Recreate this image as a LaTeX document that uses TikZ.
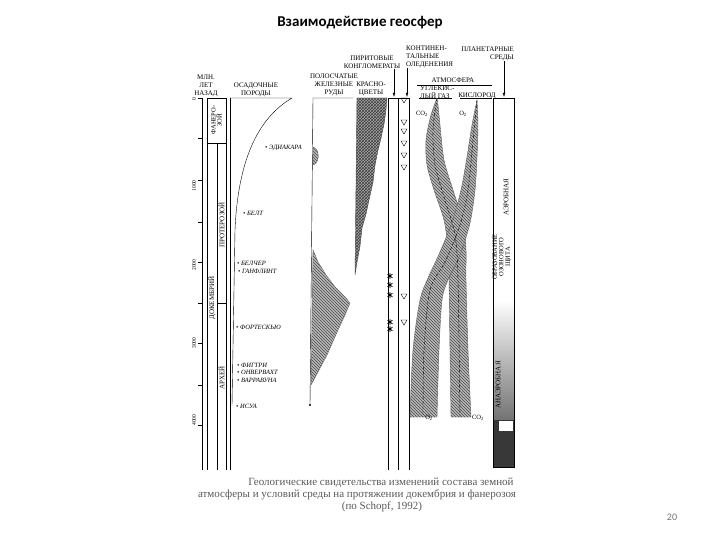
\documentclass[tikz,border=0pt]{standalone}
\usepackage{fontspec}
\setmainfont{Liberation Serif}
\newfontfamily\titlefont{Carlito}
\usetikzlibrary{arrows.meta,patterns}

\tikzset{
  ttl/.style={font=\titlefont\bfseries\fontsize{15}{17}\selectfont},
  hdr/.style={font=\fontsize{7}{8}\selectfont,align=center,inner sep=0pt},
  vlab/.style={font=\fontsize{7}{6}\selectfont,rotate=90,align=center,inner sep=0pt},
  site/.style={font=\fontsize{6.5}{7}\selectfont\itshape,anchor=west,inner sep=0pt},
  band/.style={preaction={fill=black!28},pattern=north west lines,pattern color=black!70,draw=black!60,thin},
  gas/.style={font=\fontsize{6.5}{7}\selectfont,inner sep=0pt},
  captxt/.style={font=\fontsize{11}{12}\selectfont,text=black!65,inner sep=0pt},
}

\begin{document}
\begin{tikzpicture}[x=1pt,y=-1pt,>={Latex[length=4pt,width=2.6pt]}]
  \useasboundingbox (0,0) rectangle (720,540);
  \node[ttl] (title) at (360,23) {Взаимодействие геосфер};

  % time scale
  \node[hdr] (mln) at (206,86) {МЛН.\\ЛЕТ\\НАЗАД};
  \draw (202,98) -- (202,470);
  \foreach \y in {98,138,180,222,262,303,343,385,425}
    \draw (198,\y) -- (202,\y);
  \foreach \y/\t in {99/0,186/1000,265/2000,343/3000,420/4000}
    \node[vlab,font=\fontsize{5.5}{6}\selectfont] at (194,\y) {\t};
  \draw (207,98) rectangle (226,143);
  \draw (207,143) -- (207,470) (217,143) -- (217,470) (226,143) -- (226,470);
  \draw (217,303) -- (226,303);
  \node[vlab,font=\fontsize{6.5}{6}\selectfont] at (216.5,120) {ФАНЕРО-\\ЗОЙ};
  \node[vlab] at (221.5,225) {ПРОТЕРОЗОЙ};
  \node[vlab] at (212,298) {ДОКЕМБРИЙ};
  \node[vlab] at (221.5,378) {АРХЕЙ};

  % sedimentary rocks
  \node[hdr] (sed) at (256,90) {ОСАДОЧНЫЕ\\ПОРОДЫ};
  \draw (230,98) -- (230,470);
  \draw (230,98) -- (292,98) .. controls (258,118) and (238,160) .. (235,230) -- (232,405);
  \node[site] at (265,148) {• ЭДИАКАРА};
  \node[site] at (243,213) {• БЕЛТ};
  \node[site] at (237,263) {• БЕЛЧЕР};
  \node[site] at (238,271) {• ГАНФЛИНТ};
  \node[site] at (236,327) {• ФОРТЕСКЬЮ};
  \node[site] at (237,365) {• ФИГТРИ};
  \node[site] at (237,372) {• ОНВЕРВАХТ};
  \node[site] at (237,380) {• ВАРРАВУНА};
  \node[site] at (236,406) {• ИСУА};

  % banded iron formations
  \node[hdr] (bif) at (334,85) {ПОЛОСЧАТЫЕ\\ЖЕЛЕЗНЫЕ\\РУДЫ};
  \draw (353,98) -- (313,98) -- (310,405);
  \fill (310,405) circle (1.2);
  \draw[band] (313,147) .. controls (320,149) and (320,163) .. (313,165) -- cycle;
  \draw[band] (313,250) -- (318,262) -- (326,275) -- (335,287) -- (345,297) -- (350,303)
    -- (345,315) -- (338,330) -- (327,355) -- (318,372) -- (311,385) -- cycle;

  % red beds
  \node[hdr] (red) at (371,89) {КРАСНО-\\ЦВЕТЫ};
  \draw[preaction={fill=black!35},pattern=crosshatch,pattern color=black!75,draw=black!70]
    (357,98) -- (387,98) -- (386,110) -- (384,124) -- (381,138) -- (378,150) -- (375,165)
    -- (373,182) -- (369,200) -- (366,214) -- (362,228) -- (360,246) -- (357,262)
    -- (355,275) -- cycle;

  % pyrite conglomerates and glaciations
  \node[hdr] (pyr) at (372,62) {ПИРИТОВЫЕ\\КОНГЛОМЕРАТЫ};
  \node[hdr,anchor=west,align=left] (glac) at (406,57) {КОНТИНЕН-\\ТАЛЬНЫЕ\\ОЛЕДЕНЕНИЯ};
  \coordinate (pyrcol) at (394,97);
  \coordinate (glaccol) at (407,97);
  \draw[->] (pyr.south -| pyrcol) -- (pyrcol);
  \draw[->] (glac.south -| glaccol) -- (glaccol);
  \draw (388,98) -- (410,98);
  \draw (388,98) -- (388,470) (398,98) -- (398,470) (409,98) -- (409,470);
  \foreach \y in {100,122,131,143,155,167,296,322}
    \draw (401,\y-2) -- (407,\y-2) -- (404,\y+3) -- cycle;
  \foreach \y in {276,285,295,322,329}
    \draw[thick] (390,\y-3) -- (390,\y+3) (387.5,\y-1.8) -- (392.5,\y+1.8) (387.5,\y+1.8) -- (392.5,\y-1.8);

  % atmosphere
  \node[hdr] (atm) at (453,80) {АТМОСФЕРА};
  \draw (417,85) -- (492,85);
  \node[hdr,anchor=west,align=left] (co2h) at (420,92) {УГЛЕКИС-\\ЛЫЙ ГАЗ};
  \node[hdr] (o2h) at (477,96) {КИСЛОРОД};
  \draw (419,98) -- (452,98) (460,98) -- (492,98);
  \draw[band] plot[smooth] coordinates {(437,98) (431,115) (426,140) (427,165) (434,190)
      (444,220) (448,250) (449,280) (450,350) (451,417)}
    -- plot[smooth] coordinates {(471,417) (468,350) (466,280) (466,250) (463,222)
      (453,190) (444,160) (440,125) (438,105) (437,98)};
  \draw[band] plot[smooth] coordinates {(477,100) (472,125) (467,157) (461,190) (452,222)
      (440,252) (428,278) (420,300) (413,350) (410,417)}
    -- plot[smooth] coordinates {(437,417) (439,350) (442,300) (448,280) (460,255)
      (470,223) (475,190) (477,157) (478,125) (477,100)};
  \draw[densely dashed] plot[smooth] coordinates {(437,98) (433,130) (435,165) (445,200)
    (455,235) (458,280) (460,417)};
  \draw[densely dashed] plot[smooth] coordinates {(477,100) (473,140) (468,190) (460,225)
    (445,262) (430,290) (424,350) (423,417)};
  \node[gas] (co2t) at (422,114) {CO\textsubscript{2}};
  \node[gas] (o2t) at (463,114) {O\textsubscript{2}};
  \node[gas] (o2b) at (429,418) {O\textsubscript{2}};
  \node[gas] (co2b) at (478,418) {CO\textsubscript{2}};

  % planetary environments
  \node[hdr,anchor=east,align=right] (planet) at (514,54) {ПЛАНЕТАРНЫЕ\\СРЕДЫ};
  \coordinate (planetcol) at (504,97);
  \draw[->] (planet.south -| planetcol) -- (planetcol);
  \shade[top color=white,bottom color=black!55] (493,300) rectangle (514,420);
  \fill[black!78] (493,420) rectangle (514,467);
  \fill[white] (499,421) rectangle (513,431);
  \draw (493,98) rectangle (514,467);
  \node[vlab] at (506,197) {АЭРОБНАЯ};
  \node[vlab,font=\fontsize{6.5}{6.5}\selectfont] at (502,257) {ОБРАЗОВАНИЕ\\ОЗОНОВОГО\\ЩИТА};
  \node[vlab] at (498,385) {АНАЭРОБНАЯ};

  % caption
  \node[captxt] (cap1) at (381,483) {Геологические свидетельства изменений состава земной};
  \node[captxt] (cap2) at (357,495) {атмосферы и условий среды на протяжении докембрия и фанерозоя};
  \node[captxt] (cap3) at (382,507) {(по Schopf, 1992)};
  \node[font=\titlefont\fontsize{10}{12}\selectfont,text=black!55] (page) at (672,517) {20};
\end{tikzpicture}
\end{document}
